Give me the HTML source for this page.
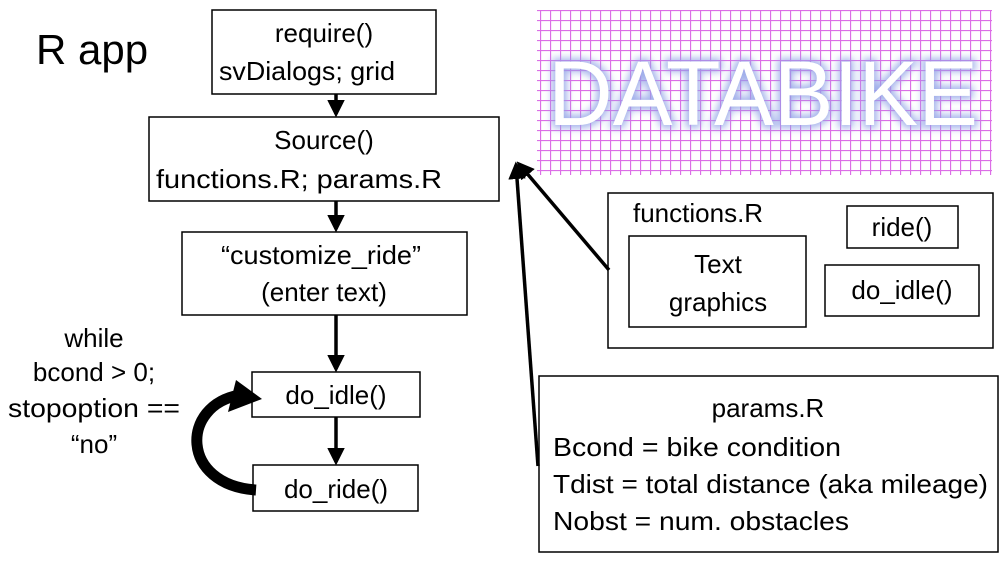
<!DOCTYPE html>
<html><head><meta charset="utf-8"><style>
html,body{margin:0;padding:0;background:#fff;width:1000px;height:563px;overflow:hidden}
text{font-family:"Liberation Sans",sans-serif;fill:#000}
</style></head><body>
<svg width="1000" height="563" viewBox="0 0 1000 563" xmlns="http://www.w3.org/2000/svg">
<defs>
<pattern id="g" width="10" height="10" patternUnits="userSpaceOnUse">
<path d="M0 0.5H10M0.5 0V10" stroke="#dc6ee6" stroke-width="1.3" fill="none"/>
</pattern>
<filter id="bl" x="-10%" y="-30%" width="120%" height="160%"><feGaussianBlur stdDeviation="4"/></filter>
<marker id="ah" markerWidth="5" markerHeight="5" refX="4" refY="2.5" orient="auto" markerUnits="strokeWidth"><path d="M0 0L5 2.5L0 5z" fill="#000"/></marker>
</defs>
<rect x="537" y="10" width="455" height="165" fill="url(#g)"/>
<text x="548" y="125" font-size="92" font-family="Liberation Mono" textLength="430" lengthAdjust="spacingAndGlyphs" style="fill:#8fa0e6" stroke="#8fa0e6" stroke-width="6" filter="url(#bl)" opacity="0.85">DATABIKE</text>
<text x="548" y="125" font-size="92" font-family="Liberation Mono" textLength="430" lengthAdjust="spacingAndGlyphs" style="fill:#fff">DATABIKE</text>

<text x="36" y="64" font-size="42">R app</text>

<g fill="#fff" stroke="#000" stroke-width="1.5">
<rect x="212" y="10" width="224" height="84"/>
<rect x="149" y="117" width="350" height="84"/>
<rect x="182" y="232" width="285" height="83"/>
<rect x="252" y="372" width="168" height="45"/>
<rect x="253" y="465" width="165" height="46"/>
<rect x="608" y="193" width="385" height="155"/>
<rect x="629" y="236" width="177" height="91"/>
<rect x="847" y="206" width="111" height="42"/>
<rect x="825" y="265" width="154" height="51"/>
<rect x="539" y="376" width="459" height="176"/>
</g>

<g font-size="26" text-anchor="middle">
<text x="324" y="42">require()</text>
<text x="324" y="149">Source()</text>
<text x="321" y="264" textLength="200" lengthAdjust="spacingAndGlyphs">“customize_ride”</text>
<text x="324" y="301">(enter text)</text>
<text x="336" y="404">do_idle()</text>
<text x="336" y="498">do_ride()</text>
<text x="718" y="273">Text</text>
<text x="718" y="311">graphics</text>
<text x="902" y="236">ride()</text>
<text x="902" y="299">do_idle()</text>
<text x="768" y="417">params.R</text>
<text x="94" y="347">while</text>
<text x="94" y="381">bcond &gt; 0;</text>
<text x="94" y="417" textLength="172" lengthAdjust="spacingAndGlyphs">stopoption ==</text>
<text x="94" y="453">“no”</text>
</g>
<g font-size="26">
<text x="219" y="80" textLength="176" lengthAdjust="spacingAndGlyphs">svDialogs; grid</text>
<text x="156" y="188" textLength="286" lengthAdjust="spacingAndGlyphs">functions.R; params.R</text>
<text x="633" y="222">functions.R</text>
<text x="553" y="456" textLength="288" lengthAdjust="spacingAndGlyphs">Bcond = bike condition</text>
<text x="553" y="493" textLength="435" lengthAdjust="spacingAndGlyphs">Tdist = total distance (aka mileage)</text>
<text x="553" y="530" textLength="296" lengthAdjust="spacingAndGlyphs">Nobst = num. obstacles</text>
</g>

<g stroke="#000" stroke-width="3.5" fill="none">
<line x1="336" y1="94" x2="336" y2="114" marker-end="url(#ah)"/>
<line x1="336" y1="201" x2="336" y2="229" marker-end="url(#ah)"/>
<line x1="336" y1="315" x2="336" y2="369" marker-end="url(#ah)"/>
<line x1="336" y1="417" x2="336" y2="462" marker-end="url(#ah)"/>
<line x1="538" y1="466" x2="516" y2="165" marker-end="url(#ah)"/>
<line x1="609" y1="270" x2="519" y2="164" marker-end="url(#ah)"/>
</g>
<path d="M256 490 C180 485 180 405 240 395" stroke="#000" stroke-width="11" fill="none"/>
<path d="M262 399 L236 380 L228 412 z" fill="#000"/>
</svg>
</body></html>
